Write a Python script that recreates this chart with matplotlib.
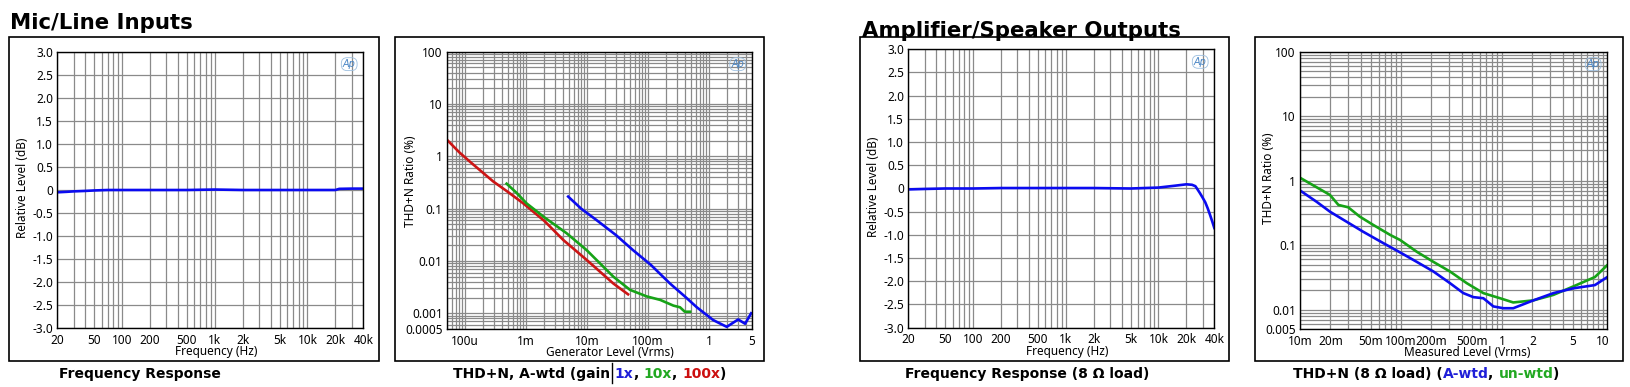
import numpy as np
import matplotlib.pyplot as plt
from matplotlib.ticker import FixedLocator, LogLocator, NullFormatter, FixedFormatter
from matplotlib.patches import Rectangle
from matplotlib.lines import Line2D

# ---- data ----
# Mic/Line frequency response
fr1_hz = [20, 25, 30, 40, 50, 70, 100, 200, 500, 1000, 2000, 5000, 10000, 20000, 22000, 30000, 40000]
fr1_db = [-0.05, -0.04, -0.03, -0.02, -0.01, 0.0, 0.0, 0.0, 0.0, 0.01, 0.0, 0.0, 0.0, 0.0, 0.025, 0.03, 0.03]

# Mic/Line THD+N vs generator level (gain 1x, 10x, 100x)
g1_v = [0.0049, 0.0080, 0.0144, 0.030, 0.057, 0.11, 0.229, 0.40, 0.63, 1.17, 1.95, 3.0, 3.9, 4.9]
g1_thd = [0.17, 0.10, 0.06, 0.031, 0.016, 0.0085, 0.0037, 0.0021, 0.0013, 0.00074, 0.00055, 0.00076, 0.00063, 0.001]
g10_v = [0.00048, 0.00070, 0.00102, 0.0020, 0.0046, 0.0099, 0.027, 0.0506, 0.095, 0.158, 0.26, 0.334, 0.40, 0.49]
g10_thd = [0.30, 0.20, 0.126, 0.068, 0.034, 0.016, 0.005, 0.0028, 0.0021, 0.0018, 0.0014, 0.0013, 0.00107, 0.00107]
g100_v = [0.00005, 0.00008, 0.00012, 0.00029, 0.0005, 0.0009, 0.0020, 0.0041, 0.0099, 0.027, 0.047]
g100_thd = [2.1, 1.2, 0.79, 0.33, 0.21, 0.126, 0.058, 0.025, 0.0104, 0.0037, 0.0023]

# Amplifier frequency response (8 ohm)
fr3_hz = [20, 30, 50, 100, 200, 500, 1000, 2000, 5000, 10000, 15000, 20000, 23000, 25000,
          26000, 28000, 30000, 32000, 34000, 36000, 38000, 40000]
fr3_db = [-0.02, -0.01, 0.0, 0.0, 0.01, 0.01, 0.01, 0.01, 0.0, 0.02, 0.06, 0.09, 0.08, 0.05,
          0.0, -0.10, -0.20, -0.30, -0.43, -0.57, -0.71, -0.85]

# Amplifier THD+N vs measured level
aw_v = [0.0102, 0.0146, 0.0198, 0.029, 0.042, 0.067, 0.098, 0.143, 0.209, 0.305, 0.414, 0.52,
        0.653, 0.82, 1.03, 1.29, 2.04, 3.22, 5.08, 8.3, 11]
aw_thd = [0.69, 0.47, 0.33, 0.23, 0.162, 0.107, 0.077, 0.055, 0.039, 0.0257, 0.018, 0.0156,
          0.0150, 0.0112, 0.0105, 0.0105, 0.0139, 0.018, 0.0214, 0.024, 0.032]
uw_v = [0.0102, 0.0198, 0.024, 0.030, 0.039, 0.053, 0.078, 0.098, 0.143, 0.209, 0.305, 0.447,
        0.653, 0.955, 1.29, 2.04, 3.22, 5.08, 8.3, 11]
uw_thd = [1.09, 0.60, 0.42, 0.386, 0.277, 0.206, 0.144, 0.12, 0.079, 0.055, 0.039, 0.0257,
          0.018, 0.0150, 0.0129, 0.0139, 0.0169, 0.0229, 0.032, 0.049]

fr_ticks = [20, 50, 100, 200, 500, 1000, 2000, 5000, 10000, 20000, 40000]
fr_labels = ['20', '50', '100', '200', '500', '1k', '2k', '5k', '10k', '20k', '40k']
db_ticks = np.arange(-3.0, 3.01, 0.5)
db_labels = ['-3.0', '-2.5', '-2.0', '-1.5', '-1.0', '-0.5', '0', '0.5', '1.0', '1.5', '2.0', '2.5', '3.0']
gen_ticks = [1e-4, 1e-3, 1e-2, 0.1, 1, 5]
gen_labels = ['100u', '1m', '10m', '100m', '1', '5']
thd2_ticks = [0.0005, 0.001, 0.01, 0.1, 1, 10, 100]
thd2_labels = ['0.0005', '0.001', '0.01', '0.1', '1', '10', '100']
meas_ticks = [0.01, 0.02, 0.05, 0.1, 0.2, 0.5, 1, 2, 5, 10]
meas_labels = ['10m', '20m', '50m', '100m', '200m', '500m', '1', '2', '5', '10']
thd4_ticks = [0.005, 0.01, 0.1, 1, 10, 100]
thd4_labels = ['0.005', '0.01', '0.1', '1', '10', '100']

BLUE = '#0b0bf0'
GREEN = '#17a317'
RED = '#cc1515'
GRID = '#8a8a8a'
TICKFONT = 'Noto Sans'

W, H = 1630, 387
fig = plt.figure(figsize=(W / 100, H / 100), dpi=100)


def fx(px):
    return px / W


def fy(py):
    return 1 - py / H


def panel(x0, y0, x1, y1):
    ax = fig.add_axes([fx(x0), fy(y1), (x1 - x0) / W, (y1 - y0) / H])
    ax.set_axisbelow(True)
    for s in ax.spines.values():
        s.set_linewidth(1.0)
        s.set_color('black')
    ax.tick_params(which='both', length=0, labelsize=8.5)
    ax.tick_params(axis='x', pad=4)
    ax.tick_params(axis='y', pad=3)
    return ax


def frame(x0, y0, x1, y1):
    fig.add_artist(Rectangle((fx(x0), fy(y1)), (x1 - x0) / W, (y1 - y0) / H,
                             transform=fig.transFigure, fill=False, ec='black', lw=1.2))


def ap_logo(ax):
    ax.text(0.975, 0.955, 'Ap', transform=ax.transAxes, ha='right', va='center',
            fontsize=7, style='italic', color='#4a86c5',
            bbox=dict(boxstyle='round,pad=0.15,rounding_size=0.6', fc='none', ec='#9cbfe0', lw=0.6))


def setup_freq(ax):
    ax.set_xscale('log')
    ax.set_xlim(20, 40000)
    ax.set_ylim(-3, 3)
    ax.xaxis.set_major_locator(FixedLocator(fr_ticks))
    ax.xaxis.set_major_formatter(FixedFormatter(fr_labels))
    ax.xaxis.set_minor_locator(LogLocator(base=10, subs=range(1, 10), numticks=20))
    ax.xaxis.set_minor_formatter(NullFormatter())
    ax.yaxis.set_major_locator(FixedLocator(db_ticks))
    ax.yaxis.set_major_formatter(FixedFormatter(db_labels))
    ax.grid(True, which='both', axis='x', color=GRID, lw=0.9)
    ax.grid(True, which='major', axis='y', color=GRID, lw=0.9)


def setup_loglog(ax, xlim, xt, xl, ylim, yt, yl):
    ax.set_xscale('log')
    ax.set_yscale('log')
    ax.set_xlim(*xlim)
    ax.set_ylim(*ylim)
    ax.xaxis.set_major_locator(FixedLocator(xt))
    ax.xaxis.set_major_formatter(FixedFormatter(xl))
    ax.yaxis.set_major_locator(FixedLocator(yt))
    ax.yaxis.set_major_formatter(FixedFormatter(yl))
    for a in (ax.xaxis, ax.yaxis):
        a.set_minor_locator(LogLocator(base=10, subs=range(1, 10), numticks=30))
        a.set_minor_formatter(NullFormatter())
    ax.grid(True, which='both', color=GRID, lw=0.9)


def multicolor(x, y, parts, bar_after=None, **kw):
    r = fig.canvas.get_renderer()
    xx = fx(x)
    for i, (s, c) in enumerate(parts):
        t = fig.text(xx, fy(y), s, color=c, **kw)
        xx += t.get_window_extent(renderer=r).width / W
        if bar_after == i:
            xx += 2.5 / W
            fig.add_artist(Line2D([xx, xx], [fy(363), fy(383)], transform=fig.transFigure,
                                  color='black', lw=1.0))
            xx += 2.5 / W


# ---- panel 1: Mic/Line frequency response ----
frame(9.3, 37.3, 378.7, 361)
ax1 = panel(57.3, 51.7, 363.3, 328.3)
setup_freq(ax1)
ax1.plot(fr1_hz, fr1_db, color=BLUE, lw=1.9)
ap_logo(ax1)
for lab in ax1.get_xticklabels() + ax1.get_yticklabels():
    lab.set_family(TICKFONT)

# ---- panel 2: Mic/Line THD+N ----
frame(395, 37.3, 764, 361)
ax2 = panel(446.7, 51.7, 751.7, 329)
setup_loglog(ax2, (5e-5, 5), gen_ticks, gen_labels, (0.0005, 100), thd2_ticks, thd2_labels)
ax2.plot(g100_v, g100_thd, color=RED, lw=1.9)
ax2.plot(g10_v, g10_thd, color=GREEN, lw=1.9)
ax2.plot(g1_v, g1_thd, color=BLUE, lw=1.9)
ap_logo(ax2)
for lab in ax2.get_xticklabels() + ax2.get_yticklabels():
    lab.set_family(TICKFONT)

# ---- panel 3: amplifier frequency response ----
frame(860.3, 37.3, 1229.3, 361)
ax3 = panel(908.3, 49.3, 1214.3, 327.7)
setup_freq(ax3)
ax3.plot(fr3_hz, fr3_db, color=BLUE, lw=1.9)
ap_logo(ax3)
for lab in ax3.get_xticklabels() + ax3.get_yticklabels():
    lab.set_family(TICKFONT)

# ---- panel 4: amplifier THD+N ----
frame(1255, 37.3, 1623.3, 361)
ax4 = panel(1300, 51.7, 1607.3, 329)
setup_loglog(ax4, (0.01, 11), meas_ticks, meas_labels, (0.005, 100), thd4_ticks, thd4_labels)
ax4.plot(uw_v, uw_thd, color=GREEN, lw=1.9)
ax4.plot(aw_v, aw_thd, color=BLUE, lw=1.9)
ap_logo(ax4)
for lab in ax4.get_xticklabels() + ax4.get_yticklabels():
    lab.set_family(TICKFONT)

# axis labels
lab_kw = dict(fontsize=8.5, family=TICKFONT, ha='center', va='center')
fig.text(fx(22.7), fy(188), 'Relative Level (dB)', rotation=90, **lab_kw)
fig.text(fx(215.7), fy(351.7), 'Frequency (Hz)', **lab_kw)
fig.text(fx(410), fy(181), 'THD+N Ratio (%)', rotation=90, **lab_kw)
fig.text(fx(609.5), fy(352.7), 'Generator Level (Vrms)', **lab_kw)
fig.text(fx(873.3), fy(187), 'Relative Level (dB)', rotation=90, **lab_kw)
fig.text(fx(1066.7), fy(351), 'Frequency (Hz)', **lab_kw)
fig.text(fx(1268.3), fy(178), 'THD+N Ratio (%)', rotation=90, **lab_kw)
fig.text(fx(1467.3), fy(352.7), 'Measured Level (Vrms)', **lab_kw)

# section titles
fig.text(fx(9.5), fy(29.3), 'Mic/Line Inputs', fontsize=15.3, fontweight='bold',
         family='DejaVu Sans', va='baseline', ha='left')
fig.text(fx(861.7), fy(37.3), 'Amplifier/Speaker Outputs', fontsize=15.3, fontweight='bold',
         family='DejaVu Sans', va='baseline', ha='left')

# captions
cap_kw = dict(fontsize=10, fontweight='bold', family='DejaVu Sans', va='baseline', ha='left')
fig.text(fx(59), fy(378), 'Frequency Response', **cap_kw)
fig.text(fx(905), fy(378), 'Frequency Response (8 \u03a9 load)', **cap_kw)
multicolor(452.7, 378, [('THD+N, A-wtd (gain', 'black'), ('1x', '#1f1fd8'), (', ', 'black'),
                        ('10x', '#22a822'), (', ', 'black'), ('100x', '#cc1010'), (')', 'black')],
           bar_after=0, **cap_kw)
multicolor(1292.7, 378, [('THD+N (8 \u03a9 load) (', 'black'), ('A-wtd', '#1f1fd8'), (', ', 'black'),
                         ('un-wtd', '#22a822'), (')', 'black')], **cap_kw)

fig.savefig('out.png', dpi=100)
